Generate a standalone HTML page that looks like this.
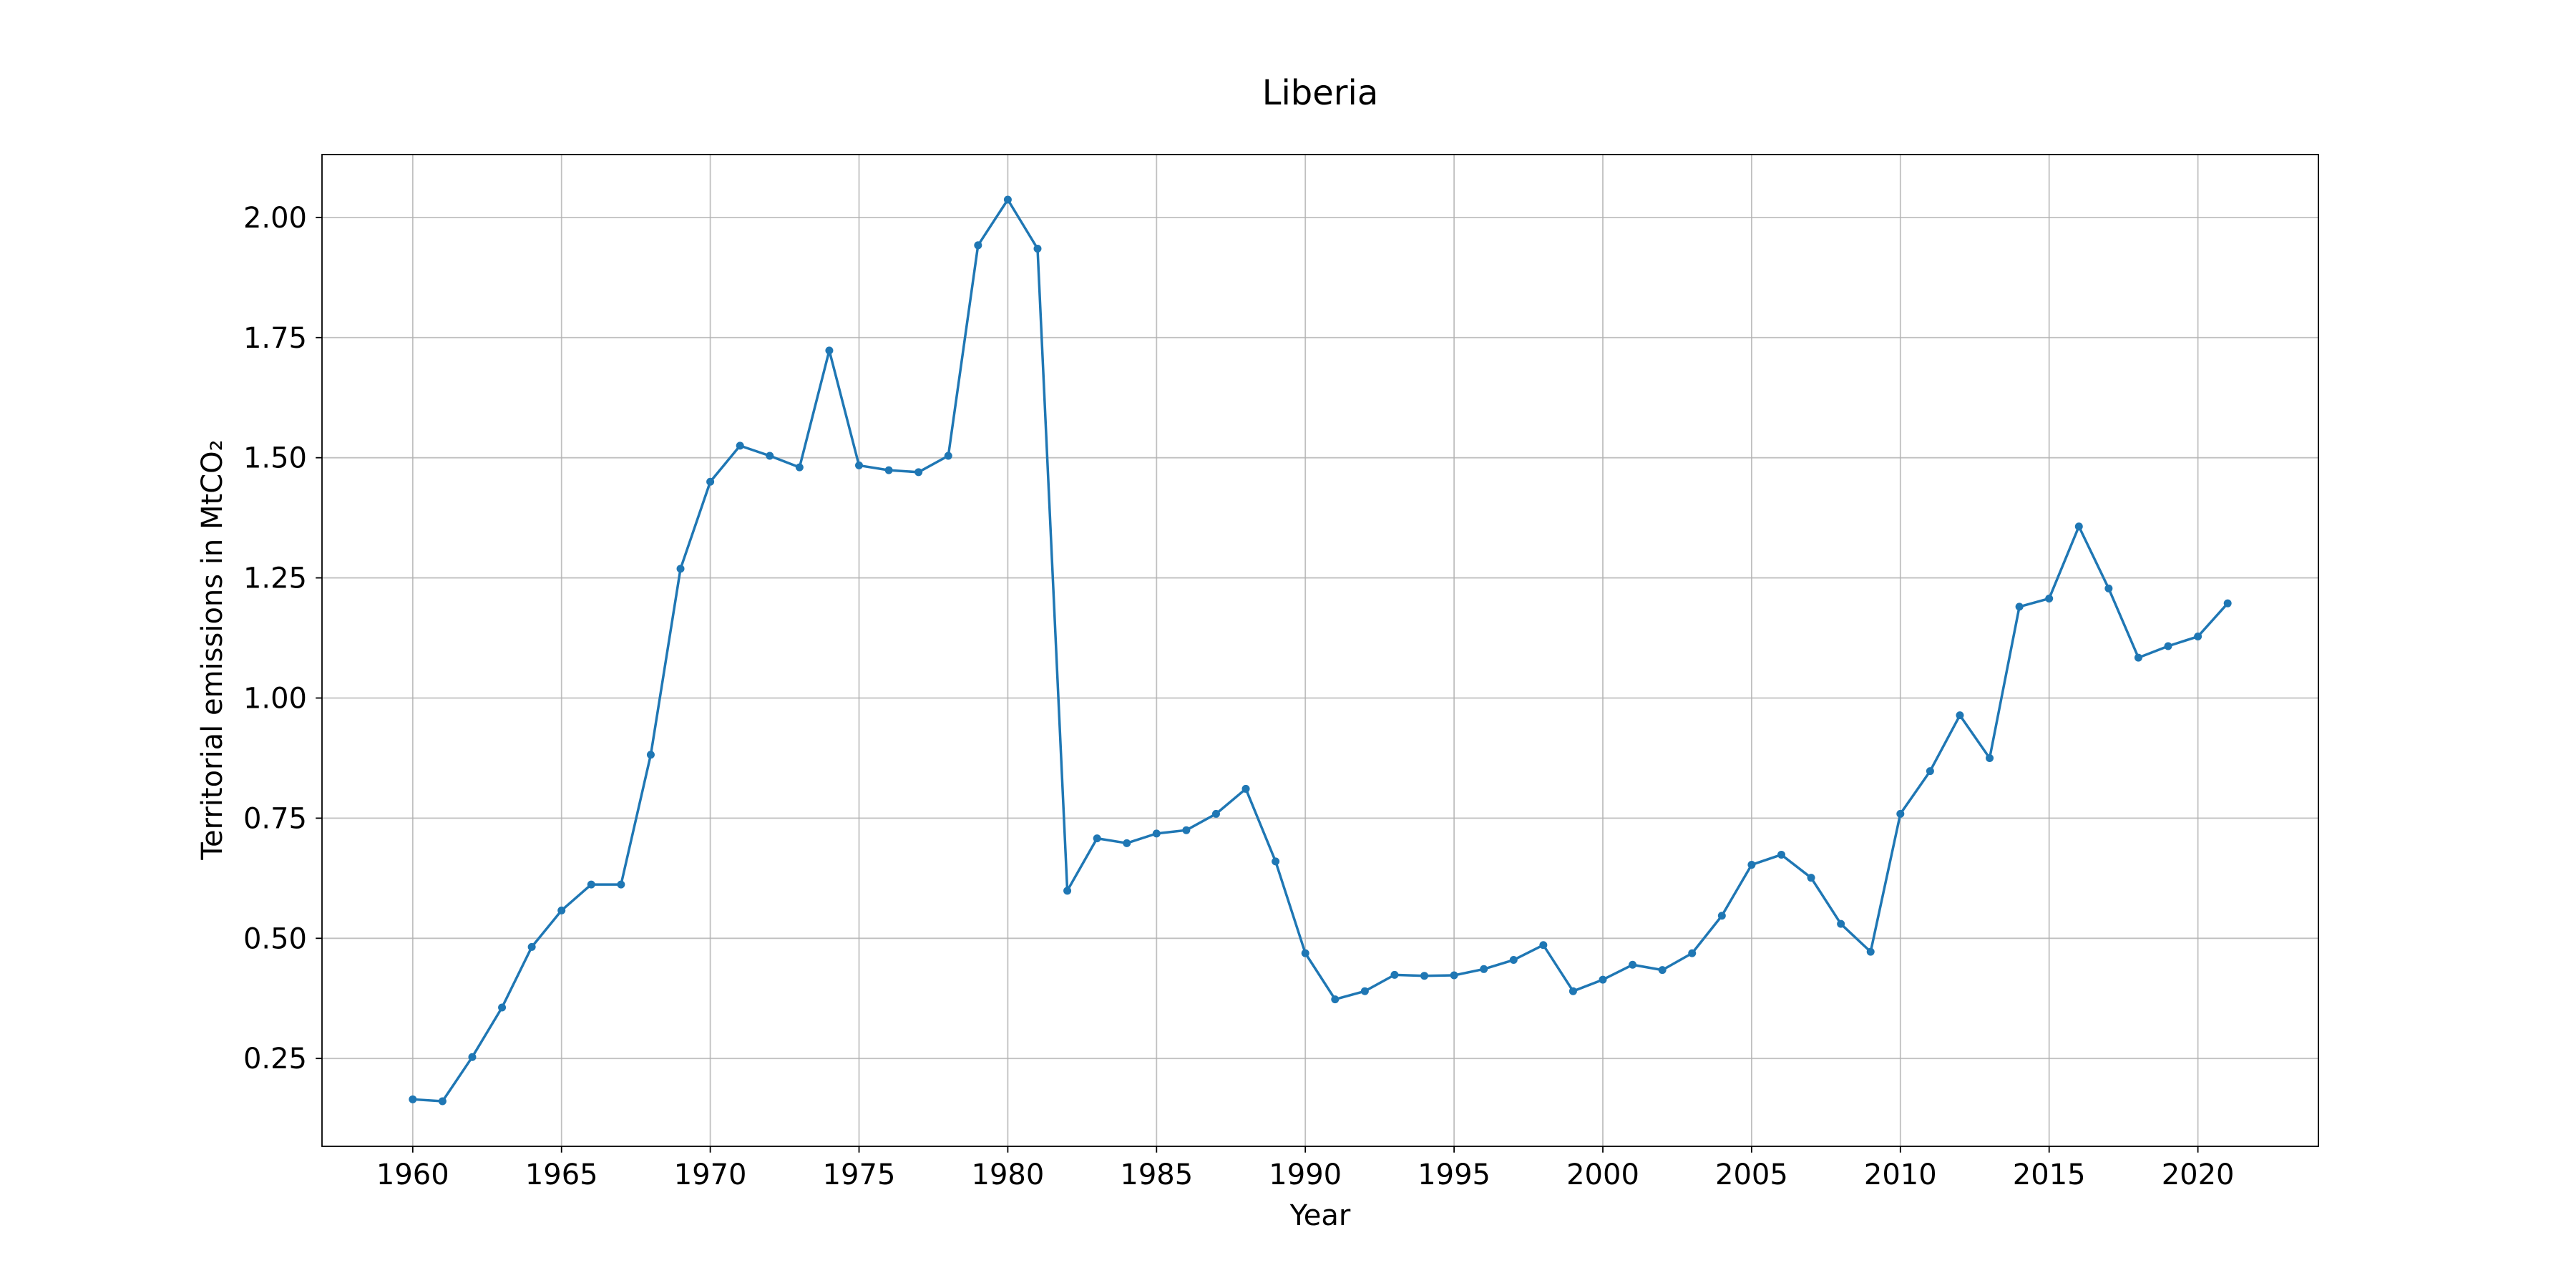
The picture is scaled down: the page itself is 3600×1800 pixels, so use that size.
<!DOCTYPE html>
<html><head><meta charset="utf-8"><style>
html,body{margin:0;padding:0;background:#fff;}
svg{display:block;font-family:"DejaVu Sans","Liberation Sans",sans-serif;}
</style></head><body>
<svg id="chart" width="3600" height="1800" viewBox="0 0 3600 1800">
<rect width="3600" height="1800" fill="#fff"/>
<g id="grid"></g>
<g id="axes"></g>
<g id="series"></g>
<text x="1845" y="146" font-size="48" text-anchor="middle">Liberia</text>
<text x="1845" y="1712" font-size="40" text-anchor="middle">Year</text>
<text x="0" y="0" font-size="40" text-anchor="middle" transform="translate(310,908) rotate(-90)">Territorial emissions in MtCO₂</text>
</svg>
<script>
const years=[1960,1961,1962,1963,1964,1965,1966,1967,1968,1969,1970,1971,1972,1973,1974,1975,1976,1977,1978,1979,1980,1981,1982,1983,1984,1985,1986,1987,1988,1989,1990,1991,1992,1993,1994,1995,1996,1997,1998,1999,2000,2001,2002,2003,2004,2005,2006,2007,2008,2009,2010,2011,2012,2013,2014,2015,2016,2017,2018,2019,2020,2021];
const emissions=[0.165,0.161,0.253,0.356,0.482,0.558,0.612,0.612,0.882,1.269,1.450,1.525,1.504,1.480,1.723,1.484,1.474,1.470,1.504,1.942,2.037,1.935,0.599,0.708,0.698,0.718,0.725,0.759,0.811,0.660,0.469,0.373,0.390,0.424,0.422,0.423,0.436,0.455,0.486,0.390,0.414,0.445,0.434,0.469,0.547,0.653,0.674,0.626,0.530,0.472,0.759,0.848,0.964,0.875,1.190,1.207,1.357,1.228,1.084,1.108,1.128,1.197];
const xTicks=[1960,1965,1970,1975,1980,1985,1990,1995,2000,2005,2010,2015,2020];
const yTicks=[0.25,0.5,0.75,1.0,1.25,1.5,1.75,2.0];
const yTickLabels=["0.25","0.50","0.75","1.00","1.25","1.50","1.75","2.00"];
const L=450,R=3240,T=216,B=1602;
const xmin=Math.min(...years),xmax=Math.max(...years),xm=(xmax-xmin)*0.05;
const ymn=Math.min(...emissions),ymx=Math.max(...emissions),ym=(ymx-ymn)*0.05;
const x0=xmin-xm,x1=xmax+xm,y0=ymn-ym,y1=ymx+ym;
const sx=v=>L+(v-x0)/(x1-x0)*(R-L);
const sy=v=>B-(v-y0)/(y1-y0)*(B-T);
const NS="http://www.w3.org/2000/svg";
function mk(tag,attrs,parent){const e=document.createElementNS(NS,tag);for(const k in attrs)e.setAttribute(k,attrs[k]);parent.appendChild(e);return e;}
const grid=document.getElementById('grid'),axes=document.getElementById('axes'),series=document.getElementById('series');
xTicks.forEach(t=>{
 const g=mk('line',{x1:sx(t),x2:sx(t),y1:T,y2:B,stroke:'#b0b0b0','stroke-width':1.8,'stroke-opacity':0.8},grid);
 
 
 const tk=mk('line',{x1:sx(t),x2:sx(t),y1:B,y2:B+8.75,stroke:'#000','stroke-width':1.8},axes);
 
 
 const tx=mk('text',{x:sx(t),y:B+53,'font-size':40,'text-anchor':'middle'},axes);
 tx.textContent=t;
 
 
});
yTicks.forEach((t,i)=>{
 const g=mk('line',{x1:L,x2:R,y1:sy(t),y2:sy(t),stroke:'#b0b0b0','stroke-width':1.8,'stroke-opacity':0.8},grid);
 
 
 const tk=mk('line',{x1:L-8.75,x2:L,y1:sy(t),y2:sy(t),stroke:'#000','stroke-width':1.8},axes);
 
 
 const tx=mk('text',{x:L-21,y:sy(t)+14,'font-size':40,'text-anchor':'end'},axes);
 tx.textContent=yTickLabels[i];
 
 
});
const frame=mk('rect',{x:L,y:T,width:R-L,height:B-T,fill:'none',stroke:'#000','stroke-width':1.8},axes);


const pts=years.map((y,i)=>sx(y)+','+sy(emissions[i])).join(' ');
const line=mk('polyline',{points:pts,fill:'none',stroke:'#1f77b4','stroke-width':3.5,'stroke-linejoin':'round'},series);


years.forEach((y,i)=>{
 const c=mk('circle',{cx:sx(y),cy:sy(emissions[i]),r:5.5,fill:'#1f77b4'},series);
 
 
});
</script>
</body></html>
